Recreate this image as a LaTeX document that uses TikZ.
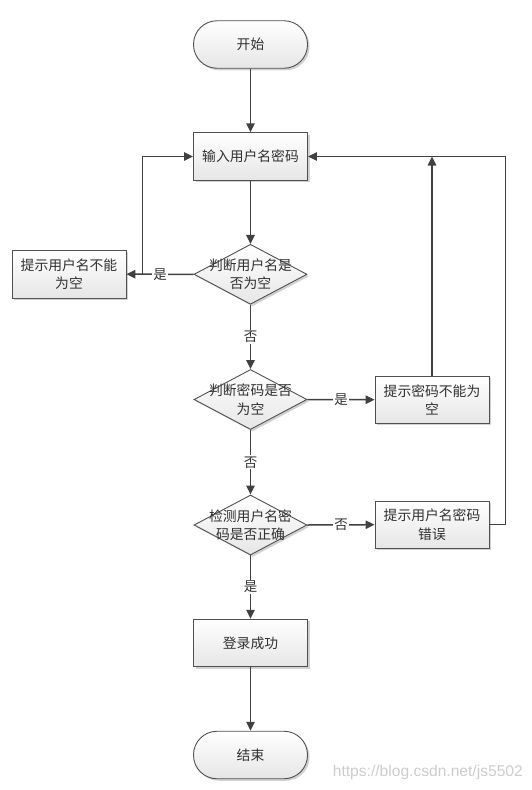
\documentclass[tikz,border=0pt]{standalone}
\usepackage{fontspec}
\newfontfamily\cjk{Noto Sans CJK SC}
\newfontfamily\wm{Liberation Sans}
\usetikzlibrary{shapes.geometric,arrows.meta,shadows}
\definecolor{lin}{HTML}{404040}
\definecolor{bord}{HTML}{505050}
\definecolor{txt}{HTML}{303030}
\definecolor{boxlow}{HTML}{E6E6E6}
\tikzset{
  base/.style={draw=bord, line width=0.9pt, top color=white, bottom color=boxlow,
    drop shadow={shadow xshift=2pt, shadow yshift=-2pt, fill=black, opacity=0.18},
    text=txt, font=\cjk\fontsize{13.8}{18.5}\selectfont, align=center, inner sep=0pt},
  term/.style={base, rectangle, rounded corners=23.5pt, minimum width=114pt, minimum height=47.5pt},
  procbox/.style={base, rectangle, minimum width=114pt, minimum height=47.5pt},
  dia/.style={base, diamond, minimum width=113pt, minimum height=60pt},
  dtext/.style={text=txt, font=\cjk\fontsize{13.8}{18.5}\selectfont, align=center, inner sep=0pt},
  conn/.style={draw=lin, line width=1.5pt, -{Triangle[length=9pt,width=8.5pt]}},
  lab/.style={fill=white, text=txt, font=\cjk\fontsize{13.5}{16}\selectfont, inner sep=1pt}
}
\begin{document}
\begin{tikzpicture}[x=1pt,y=-1pt]
\useasboundingbox (0,0) rectangle (532,790);
\node[term] (start) at (250.5,44.5) {开始};
\node[procbox] (input) at (250.5,156.5) {输入用户名密码};
\node[dia] (d1) at (250.5,274.3) {};
\node[dtext] (d1t) at (250.5,274.3) {判断用户名是\\否为空};
\node[procbox] (lbox) at (69,274.2) {提示用户名不能\\为空};
\node[dia] (d2) at (250.5,399.5) {};
\node[dtext] (d2t) at (250.5,399.5) {判断密码是否\\为空};
\node[procbox] (pbox) at (432,399.7) {提示密码不能为\\空};
\node[dia] (d3) at (250.5,525) {};
\node[dtext] (d3t) at (250.5,525) {检测用户名密\\码是否正确};
\node[procbox] (ebox) at (432,524.7) {提示用户名密码\\错误};
\node[procbox] (login) at (250.5,643) {登录成功};
\node[term] (end) at (250.5,755) {结束};
\node[text=black!20, font=\wm\fontsize{15.6}{17}\selectfont, anchor=east, inner sep=0pt] (wmk) at (523,772.5) {https://blog.csdn.net/js5502};

\coordinate (lj) at (142.7,274.3);
\coordinate (rc) at (505.7,156.5);

\draw[conn] (start) -- (input);
\draw[conn] (input) -- (d1);
\draw[conn] (d1.west) -- node[lab] {是} (lbox.east);
\draw[conn] (lj) |- (input.west);
\draw[conn] (d1.south) -- node[lab] {否} (d2.north);
\draw[conn] (d2.east) -- node[lab] {是} (pbox.west);
\draw[conn] (pbox.north) -- (pbox.north |- input.east);
\draw[conn] (ebox.east) -| (rc) -- (input.east);
\draw[conn] (d2.south) -- node[lab] {否} (d3.north);
\draw[conn] (d3.east) -- node[lab] {否} (ebox.west);
\draw[conn] (d3.south) -- node[lab] {是} (login.north);
\draw[conn] (login) -- (end);
\end{tikzpicture}
\end{document}
